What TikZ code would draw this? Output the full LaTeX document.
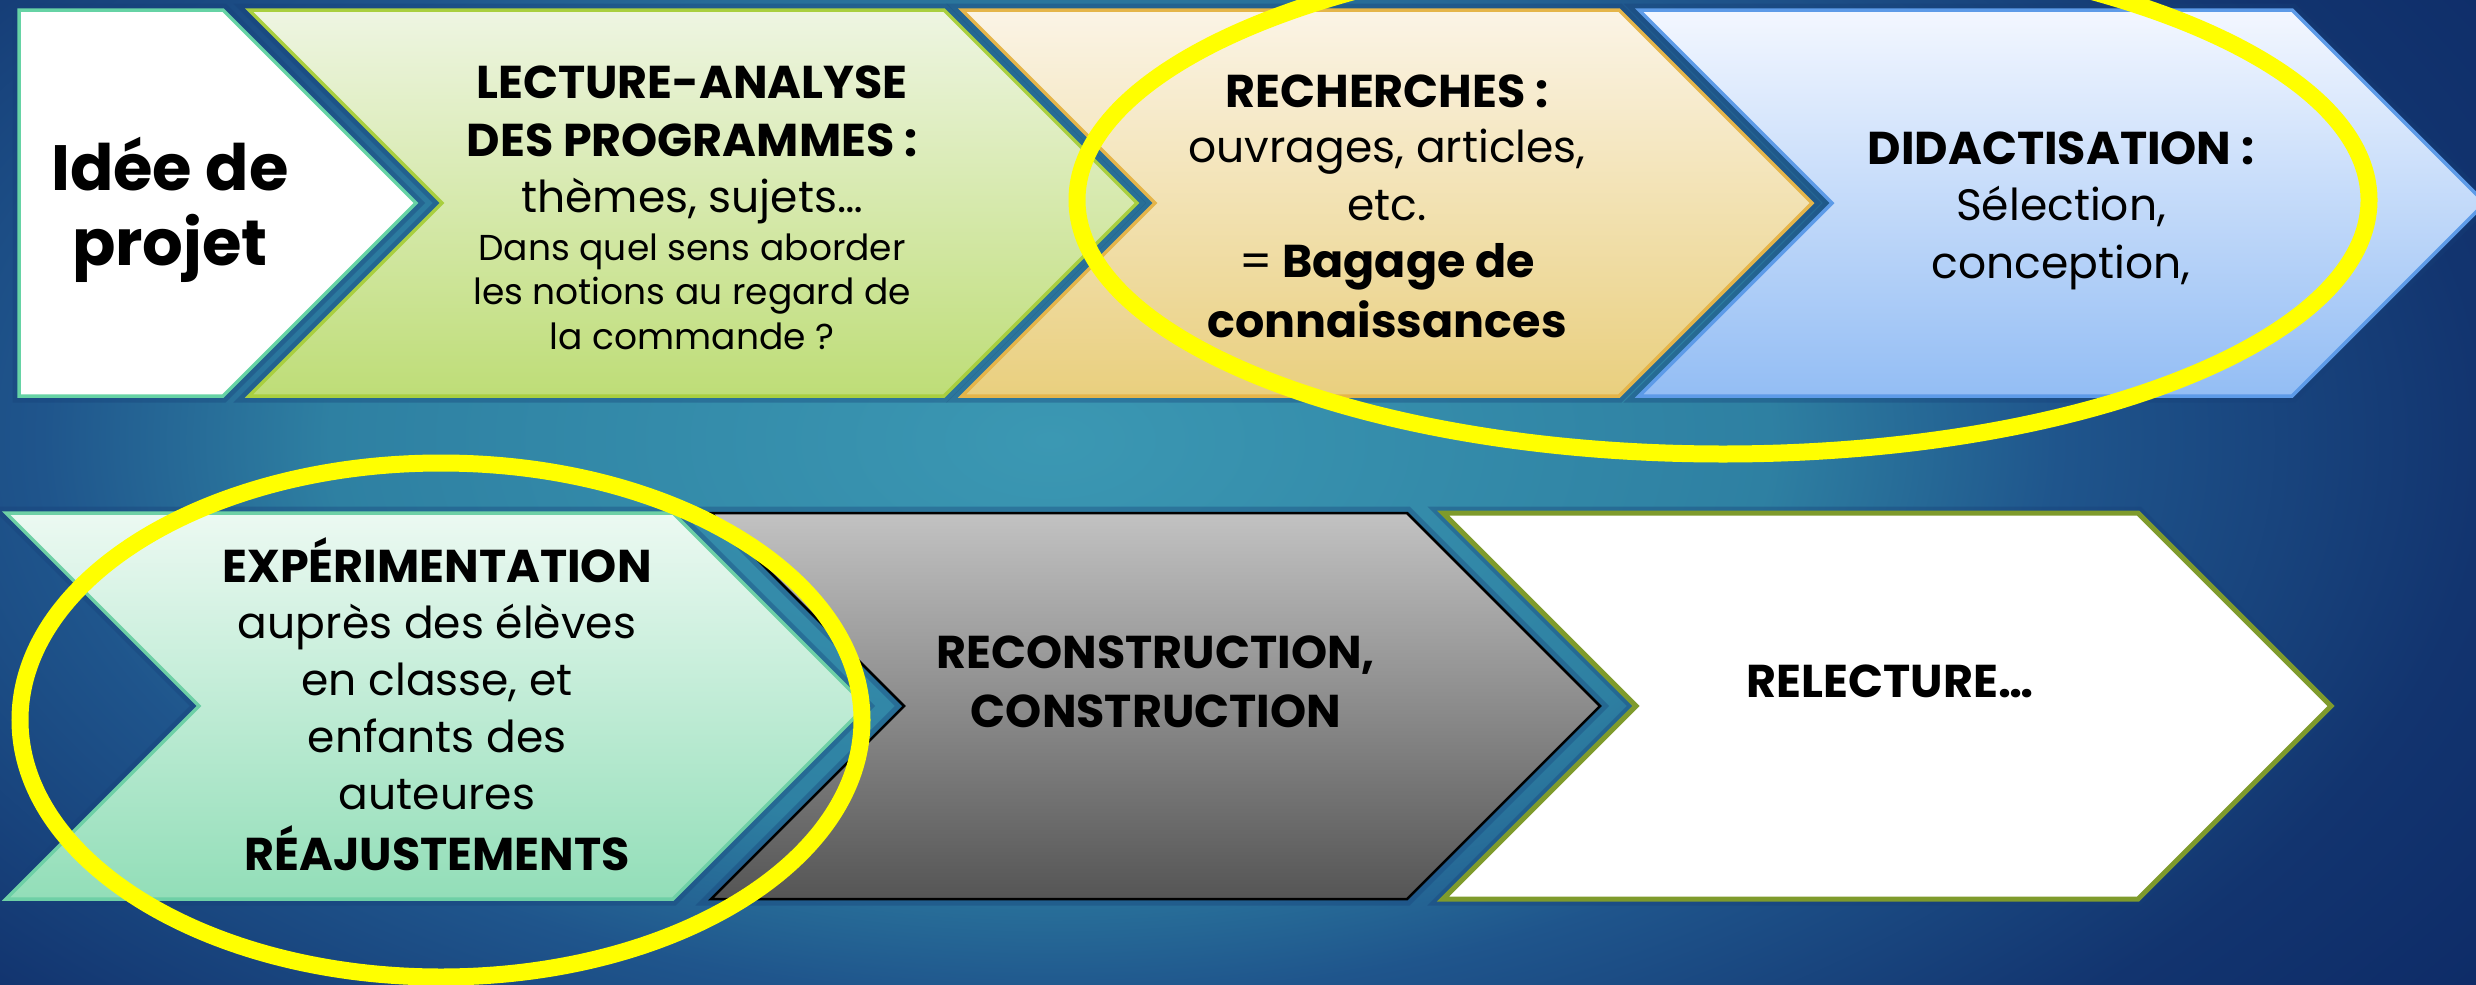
\documentclass[tikz,border=0pt]{standalone}
\usepackage{fontspec}
\setmainfont{Poppins}
\definecolor{bgnavy}{HTML}{0D2A66}
\definecolor{bgd}{HTML}{12346F}
\definecolor{bgmid}{HTML}{1F558C}
\definecolor{bgl2}{HTML}{2E80A2}
\definecolor{bgteal}{HTML}{3B98B3}
\definecolor{shadowcol}{HTML}{163F78}
\definecolor{yel}{HTML}{FFFF00}
\definecolor{b1}{HTML}{66D3A5}
\definecolor{g2t}{HTML}{EEF5E2}\definecolor{g2b}{HTML}{BEDD77}\definecolor{b2}{HTML}{A9CF3F}
\definecolor{o3t}{HTML}{FBF4E6}\definecolor{o3b}{HTML}{E9CF7E}\definecolor{b3}{HTML}{E5B54A}
\definecolor{u4t}{HTML}{F3F7FF}\definecolor{u4b}{HTML}{93BDF4}\definecolor{b4}{HTML}{5D9BE8}
\definecolor{m5t}{HTML}{ECF9F2}\definecolor{m5b}{HTML}{92DEB8}\definecolor{b5}{HTML}{6ED0A6}
\definecolor{k6t}{HTML}{C2C2C2}\definecolor{k6m}{HTML}{9E9E9E}\definecolor{k6b}{HTML}{555555}
\definecolor{b7}{HTML}{7F9B2C}
\pgfdeclareradialshading{bgshade}{\pgfpoint{0bp}{0bp}}{color(0bp)=(bgteal); color(10bp)=(bgl2); color(14bp)=(bgmid); color(20bp)=(bgd); color(25bp)=(bgnavy); color(50bp)=(bgnavy)}
\tikzset{
  halo/.style={draw=shadowcol, line width=13pt, opacity=0.35, line join=miter},
  shp/.style={line width=3.5pt, line join=miter},
  bt/.style={anchor=base, inner sep=0pt, font=\fontsize{46}{50}\selectfont\bfseries},
  rt/.style={anchor=base, inner sep=0pt, font=\fontsize{44}{50}\selectfont},
  st/.style={anchor=base, inner sep=0pt, font=\fontsize{36}{40}\selectfont},
  it/.style={anchor=base, inner sep=0pt, font=\fontsize{64}{70}\selectfont\bfseries},
  ring/.style={draw=yel, line width=17pt},
}
\begin{document}
\begin{tikzpicture}[x=1pt,y=-1pt]
\useasboundingbox (0,0) rectangle (2476,985);
\clip (0,0) rectangle (2476,985);
% background
\fill[bgnavy] (0,0) rectangle (2476,985);
\shade[shading=bgshade] (1050,440) ellipse [x radius=1800pt, y radius=1000pt];

% halos
\path[halo] (19,10) -- (223,10) -- (416,203) -- (223,396) -- (19,396) -- cycle;
\path[halo] (249,10) -- (944,10) -- (1137,203) -- (944,396) -- (249,396) -- (442,203) -- cycle;
\path[halo] (962,10) -- (1619,10) -- (1812,203) -- (1619,396) -- (962,396) -- (1155,203) -- cycle;
\path[halo] (1639,10) -- (2292,10) -- (2485,203) -- (2292,396) -- (1639,396) -- (1832,203) -- cycle;
\path[halo] (6,513) -- (673,513) -- (866,706) -- (673,899) -- (6,899) -- (199,706) -- cycle;
\path[halo] (711,513) -- (1407,513) -- (1600,706) -- (1407,899) -- (711,899) -- (904,706) -- cycle;
\path[halo] (1443,513) -- (2138,513) -- (2331,706) -- (2138,899) -- (1443,899) -- (1636,706) -- cycle;

% top row
\filldraw[shp, fill=white, draw=b1] (19,10) -- (223,10) -- (416,203) -- (223,396) -- (19,396) -- cycle;
\shade[top color=g2t, bottom color=g2b] (249,10) -- (944,10) -- (1137,203) -- (944,396) -- (249,396) -- (442,203) -- cycle;
\draw[shp, draw=b2] (249,10) -- (944,10) -- (1137,203) -- (944,396) -- (249,396) -- (442,203) -- cycle;
\shade[top color=o3t, bottom color=o3b] (962,10) -- (1619,10) -- (1812,203) -- (1619,396) -- (962,396) -- (1155,203) -- cycle;
\draw[shp, draw=b3] (962,10) -- (1619,10) -- (1812,203) -- (1619,396) -- (962,396) -- (1155,203) -- cycle;
\shade[top color=u4t, bottom color=u4b] (1639,10) -- (2292,10) -- (2485,203) -- (2292,396) -- (1639,396) -- (1832,203) -- cycle;
\draw[shp, draw=b4] (1639,10) -- (2292,10) -- (2485,203) -- (2292,396) -- (1639,396) -- (1832,203) -- cycle;

% bottom row
\shade[top color=m5t, bottom color=m5b] (6,513) -- (673,513) -- (866,706) -- (673,899) -- (6,899) -- (199,706) -- cycle;
\draw[shp, draw=b5] (6,513) -- (673,513) -- (866,706) -- (673,899) -- (6,899) -- (199,706) -- cycle;
\shade[top color=k6t, middle color=k6m, bottom color=k6b] (711,513) -- (1407,513) -- (1600,706) -- (1407,899) -- (711,899) -- (904,706) -- cycle;
\draw[shp, line width=2.5pt, draw=black] (711,513) -- (1407,513) -- (1600,706) -- (1407,899) -- (711,899) -- (904,706) -- cycle;
\filldraw[shp, line width=5pt, fill=white, draw=b7] (1443,513) -- (2138,513) -- (2331,706) -- (2138,899) -- (1443,899) -- (1636,706) -- cycle;

% texts
\node[it] (i1) at (170,190) {Idée de};
\node[it] (i2) at (170,265) {projet};

\node[bt] (l1) at (692,98) {LECTURE-ANALYSE};
\node[bt] (l2) at (692,156) {DES PROGRAMMES :};
\node[rt] (l3) at (692,212) {thèmes, sujets…};
\node[st] (l4) at (692,260) {Dans quel sens aborder};
\node[st] (l5) at (692,304) {les notions au regard de};
\node[st] (l6) at (692,349) {la commande ?};

\node[bt] (r1) at (1387,107) {RECHERCHES :};
\node[rt] (r2) at (1387,162) {ouvrages, articles,};
\node[rt] (r3) at (1387,220) {etc.};
\node[bt] (r4) at (1387,277) {{\mdseries =} Bagage de};
\node[bt] (r5) at (1387,337) {connaissances};

\node[bt] (d1) at (2061,164) {DIDACTISATION :};
\node[rt] (d2) at (2061,220) {Sélection,};
\node[rt] (d3) at (2061,278) {conception,};

\node[bt] (e1) at (437,582) {EXPÉRIMENTATION};
\node[rt] (e2) at (437,638) {auprès des élèves};
\node[rt] (e3) at (437,695) {en classe, et};
\node[rt] (e4) at (437,752) {enfants des};
\node[rt] (e5) at (437,809) {auteures};
\node[bt] (e6) at (437,870) {RÉAJUSTEMENTS};

\node[bt] (c1) at (1156,668) {RECONSTRUCTION,};
\node[bt] (c2) at (1156,727) {CONSTRUCTION};

\node[bt] (w1) at (1890,697) {RELECTURE…};

% yellow rings
\draw[ring] (1723,200) ellipse [x radius=646pt, y radius=254pt];
\draw[ring] (441,720) ellipse [x radius=421pt, y radius=257pt];
\end{tikzpicture}
\end{document}
